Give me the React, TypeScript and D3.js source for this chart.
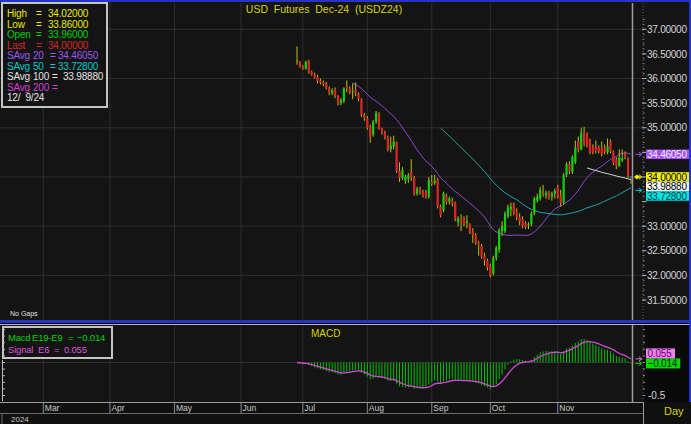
import React from 'react';
import * as d3 from 'd3';

// ---------- DATA ----------
const firstDate = '2024-06-27';
const holidays = ['2024-03-29', '2024-05-27', '2024-06-19', '2024-07-04', '2024-09-02', '2024-11-28'];

const opens = [
  36.36, 36.34, 36.24, 36.20, 36.36, 36.14, 36.08, 36.04, 35.96, 35.92,
  35.90, 35.80, 35.70, 35.78, 35.64, 35.50, 35.54, 35.84, 35.80, 35.72,
  35.78, 35.68, 35.58, 35.26, 35.20, 35.02, 34.86, 35.12, 35.28, 34.98,
  34.90, 34.80, 34.56, 34.62, 34.70, 34.12, 33.98, 33.92, 33.96, 34.10,
  33.98, 33.66, 33.76, 33.70, 33.70, 33.60, 33.90, 33.88, 33.94, 33.40,
  33.32, 33.62, 33.50, 33.52, 33.48, 33.08, 33.14, 33.16, 33.06, 33.04,
  32.90, 32.82, 32.66, 32.60, 32.40, 32.30, 32.20, 32.04, 32.36, 32.52,
  32.90, 32.90, 33.20, 33.34, 33.44, 33.30, 33.18, 33.14, 33.06, 33.02,
  33.04, 33.26, 33.52, 33.56, 33.70, 33.62, 33.68, 33.60, 33.66, 33.80,
  33.62, 33.48, 34.04, 34.26, 34.10, 34.30, 34.72, 34.56, 34.90, 34.86,
  34.74, 34.60, 34.62, 34.60, 34.58, 34.60, 34.50, 34.72, 34.52, 34.36,
  34.22, 34.34, 34.48, 34.36, 33.96,
];
const highs = [
  36.65, 36.36, 36.27, 36.36, 36.38, 36.16, 36.12, 36.08, 36.00, 35.96,
  35.93, 35.84, 35.80, 35.82, 35.66, 35.60, 35.82, 35.96, 35.84, 35.90,
  35.92, 35.72, 35.60, 35.30, 35.24, 35.06, 35.16, 35.34, 35.32, 35.00,
  34.94, 34.84, 34.82, 34.84, 34.72, 34.30, 34.20, 34.04, 34.08, 34.36,
  34.02, 33.80, 33.80, 33.74, 33.74, 34.00, 34.04, 34.04, 33.98, 33.44,
  33.70, 33.66, 33.60, 33.58, 33.50, 33.20, 33.24, 33.20, 33.22, 33.06,
  32.96, 32.86, 32.70, 32.64, 32.46, 32.34, 32.24, 32.40, 32.60, 32.96,
  33.10, 33.30, 33.44, 33.48, 33.48, 33.36, 33.26, 33.20, 33.10, 33.08,
  33.30, 33.60, 33.66, 33.80, 33.84, 33.72, 33.72, 33.70, 33.76, 33.84,
  33.74, 34.08, 34.30, 34.32, 34.44, 34.74, 34.82, 35.00, 35.02, 34.90,
  34.78, 34.66, 34.74, 34.64, 34.72, 34.66, 34.78, 34.76, 34.54, 34.40,
  34.56, 34.56, 34.52, 34.40, 34.02,
];
const lows = [
  36.28, 36.22, 36.18, 36.18, 36.10, 36.06, 36.00, 35.90, 35.88, 35.84,
  35.78, 35.66, 35.66, 35.60, 35.45, 35.46, 35.50, 35.72, 35.68, 35.58,
  35.64, 35.54, 35.22, 35.14, 34.96, 34.70, 34.82, 35.08, 34.96, 34.86,
  34.76, 34.52, 34.50, 34.56, 34.08, 33.90, 33.94, 33.86, 33.88, 33.92,
  33.62, 33.62, 33.64, 33.58, 33.56, 33.56, 33.82, 33.84, 33.36, 33.18,
  33.28, 33.44, 33.44, 33.40, 33.10, 33.00, 32.90, 33.00, 32.96, 32.84,
  32.66, 32.62, 32.40, 32.34, 32.20, 32.10, 31.96, 32.00, 32.30, 32.46,
  32.80, 32.86, 33.16, 33.20, 33.22, 33.12, 33.02, 32.96, 32.94, 32.94,
  33.00, 33.22, 33.48, 33.52, 33.60, 33.56, 33.54, 33.52, 33.56, 33.56,
  33.40, 33.44, 34.00, 34.06, 34.06, 34.26, 34.50, 34.54, 34.62, 34.60,
  34.46, 34.46, 34.48, 34.48, 34.42, 34.46, 34.46, 34.48, 34.24, 34.16,
  34.20, 34.30, 34.36, 33.98, 33.86,
];
const closes = [
  36.37, 36.24, 36.20, 36.34, 36.12, 36.08, 36.02, 35.95, 35.92, 35.88,
  35.80, 35.72, 35.76, 35.64, 35.50, 35.56, 35.80, 35.80, 35.72, 35.74,
  35.70, 35.58, 35.26, 35.20, 35.00, 34.82, 35.12, 35.30, 34.98, 34.90,
  34.80, 34.56, 34.64, 34.72, 34.12, 33.98, 34.14, 34.00, 34.04, 33.98,
  33.66, 33.76, 33.68, 33.62, 33.60, 33.94, 33.86, 33.92, 33.40, 33.22,
  33.66, 33.48, 33.56, 33.46, 33.14, 33.16, 33.10, 33.04, 33.10, 32.88,
  32.82, 32.66, 32.62, 32.38, 32.30, 32.16, 32.00, 32.36, 32.56, 32.92,
  33.00, 33.26, 33.38, 33.40, 33.26, 33.18, 33.10, 33.00, 32.98, 33.04,
  33.26, 33.56, 33.60, 33.74, 33.66, 33.68, 33.58, 33.66, 33.72, 33.60,
  33.48, 34.04, 34.26, 34.12, 34.40, 34.60, 34.56, 34.90, 34.66, 34.64,
  34.50, 34.50, 34.54, 34.52, 34.46, 34.50, 34.62, 34.52, 34.28, 34.22,
  34.40, 34.38, 34.40, 34.02, 34.00,
];

const monthStarts = ['2024-03-01', '2024-04-01', '2024-05-01', '2024-06-01', '2024-07-01', '2024-08-01', '2024-09-01', '2024-10-01', '2024-11-01'];
const monthLabels = ['Mar', 'Apr', 'May', 'Jun', 'Jul', 'Aug', 'Sep', 'Oct', 'Nov'];
const priceTicks = [31.5, 32, 32.5, 33, 33.5, 34, 34.5, 35, 35.5, 36, 36.5, 37];
const priceGrid = [32, 33, 34, 35, 36, 37];
const macdTickLabels = [-0.5];

const smaPeriods = [20, 50, 100];
const smaColors = ['#9048d8', '#18a8a8', '#d8d8d8'];
const smaValues = [34.4605, 33.728, 33.9888];
const macdFast = 9;
const macdSlow = 19;
const signalPeriod = 6;
const macdValue = -0.014;
const signalValue = 0.055;

const titleText = 'USD  Futures  Dec-24  (USDZ24)';
const legendDate = '12/  9/24';

// ---------- LAYOUT ----------
const W = 691;
const H = 424;
const FONT = '"Liberation Sans", Arial, sans-serif';
const PLOT_R = 643;
const BG = '#141414';
const GRID = '#2e2e2e';
const UP = '#10d010';
const DOWN = '#e02424';
const WICK = '#c0c000';

const parse = d3.timeParse('%Y-%m-%d');
const fmtKey = d3.timeFormat('%Y-%m-%d');

function tradingDays(start: Date, count: number): Date[] {
  const out: Date[] = [];
  let d = start;
  while (out.length < count) {
    const wd = d.getDay();
    if (wd !== 0 && wd !== 6 && !holidays.includes(fmtKey(d))) out.push(d);
    d = d3.timeDay.offset(d, 1);
  }
  return out;
}

function sma(vals: number[], p: number): (number | null)[] {
  return vals.map((_, i) => (i < p - 1 ? null : (d3.mean(vals.slice(i - p + 1, i + 1)) as number)));
}
function ema(vals: number[], p: number): number[] {
  const a = 2 / (p + 1);
  const out: number[] = [];
  vals.forEach((v, i) => out.push(i === 0 ? v : a * v + (1 - a) * out[i - 1]));
  return out;
}

type Box = { value: number; y: number; bg: string; fg: string; text: string };
function placeBoxes(items: Omit<Box, 'y'>[], scale: (v: number) => number, h: number): Box[] {
  const placed: Box[] = [];
  items.forEach((it) => {
    let y = scale(it.value);
    for (let k = 0; k < 10; k++) {
      const hit = placed.find((p) => Math.abs(p.y - y) < h - 0.01);
      if (!hit) break;
      y = it.value < hit.value ? hit.y + h : hit.y - h;
    }
    placed.push({ ...it, y });
  });
  return placed;
}

export default function App() {
  const n = closes.length;
  const dates = tradingDays(parse(firstDate) as Date, n);
  const xI = d3.scaleLinear().domain([0, n - 1]).range([297, 631]);
  const preDays = 150;
  const xCal = d3
    .scaleTime()
    .domain([d3.timeDay.offset(dates[0], -preDays), dates[0]])
    .range([297 - preDays * 2.15, 297]);
  const monthX = (m: Date) => {
    if (m < dates[0]) return xCal(m);
    const idx = dates.findIndex((d) => d >= m);
    return xI(idx);
  };
  const yP = d3.scaleLinear().domain([31.5, 37]).range([300, 29.3]);
  const yM = d3.scaleLinear().domain([-0.5, 0]).range([395.5, 362.5]);

  const smas = smaPeriods.map((p) => sma(closes, p));
  const eF = ema(closes, macdFast);
  const eS = ema(closes, macdSlow);
  const macd = eF.map((v, i) => v - eS[i]);
  const signal = ema(macd, signalPeriod);

  const lineP = d3
    .line<number | null>()
    .defined((d) => d !== null)
    .x((_, i) => xI(i))
    .y((d) => yP(d as number));
  const lineM = d3
    .line<number>()
    .x((_, i) => xI(i))
    .y((d) => yM(d))
    .curve(d3.curveMonotoneX);

  const lastIdx = n - 1;
  const lastClose = closes[lastIdx];
  const f5 = d3.format('.5f');
  const f3 = d3.format('.3f');
  const curX = xI(lastIdx) + 1.5;

  const priceBoxes = placeBoxes(
    [
      { value: lastClose, bg: '#f0f000', fg: '#000000', text: f5(lastClose) },
      { value: smaValues[0], bg: '#a050f0', fg: '#f4eaff', text: f5(smaValues[0]) },
      { value: smaValues[2], bg: '#f4f4f4', fg: '#000000', text: f5(smaValues[2]) },
      { value: smaValues[1], bg: '#00e4e4', fg: '#003c3c', text: f5(smaValues[1]) },
    ],
    yP,
    9.5,
  );
  const macdBoxes = placeBoxes(
    [
      { value: macdValue, bg: '#00d800', fg: '#002800', text: f3(macdValue) },
      { value: signalValue, bg: '#ec84ec', fg: '#700070', text: f3(signalValue) },
    ],
    yM,
    10,
  );
  // tick labels hidden behind the value boxes
  const visibleTicks = priceTicks.filter((v) => !priceBoxes.some((b) => Math.abs(b.y - yP(v)) < 9.5));

  const minorTicks = d3.range(31.5, 37.25, 0.1);
  const macdMinor = d3.range(-0.5, 0.51, 0.1);
  const months = monthStarts.map((m) => parse(m) as Date);

  const legendRows: { parts: [string, number][]; color: string }[] = [
    { parts: [['High', 7], ['=', 36], [f5(highs[lastIdx]), 48]], color: '#e8e800' },
    { parts: [['Low', 7], ['=', 36], [f5(lows[lastIdx]), 48]], color: '#e8e800' },
    { parts: [['Open', 7], ['=', 36], [f5(opens[lastIdx]), 48]], color: '#00d000' },
    { parts: [['Last', 7], ['=', 36], [f5(lastClose), 48]], color: '#d42828' },
    { parts: [['SAvg', 7], [String(smaPeriods[0]), 33], ['=', 50], [f5(smaValues[0]), 58]], color: '#9a58ec' },
    { parts: [['SAvg', 7], [String(smaPeriods[1]), 33], ['=', 50], [f5(smaValues[1]), 58]], color: '#00c8c8' },
    { parts: [['SAvg', 7], [String(smaPeriods[2]), 33], ['=', 52], [f5(smaValues[2]), 63]], color: '#e4e4e4' },
    { parts: [['SAvg', 7], ['200', 33], ['=', 52]], color: '#d040d0' },
    { parts: [[legendDate, 7]], color: '#e4e4e4' },
  ];

  const macdRows: { parts: [string, number][]; color: string }[] = [
    { parts: [['Macd', 8], [`E${macdSlow}-E${macdFast}`, 32], ['=', 68], [f3(macdValue), 77]], color: '#00d400' },
    { parts: [['Signal', 8], [`E${signalPeriod}`, 38], ['=', 54], [f3(signalValue), 64]], color: '#d454d4' },
  ];

  const arrow = (y: number, color: string, key: string) => (
    <path
      key={key}
      d={`M635.5,${y} L641.5,${y} M639,${y - 2.2} L641.8,${y} L639,${y + 2.2}`}
      stroke={color}
      strokeWidth={1}
      fill="none"
    />
  );

  return (
    <svg width={W} height={H} style={{ display: 'block', position: 'absolute', left: 0, top: 0 }} fontFamily={FONT}>
      <rect x={0} y={0} width={W} height={H} fill="#000000" />
      {/* main panel */}
      <rect x={0} y={2} width={689} height={318} fill={BG} />
      {/* macd panel */}
      <rect x={0} y={325} width={PLOT_R} height={77} fill={BG} />
      <rect x={PLOT_R} y={325} width={46} height={77} fill="#0a0a0a" />

      {/* grids */}
      {priceGrid.map((v) => (
        <line key={'g' + v} x1={0} x2={PLOT_R} y1={yP(v)} y2={yP(v)} stroke={GRID} strokeWidth={1} />
      ))}
      {months.map((m, i) => (
        <g key={'vg' + i}>
          <line x1={monthX(m)} x2={monthX(m)} y1={3} y2={320} stroke={GRID} strokeWidth={1} />
          <line x1={monthX(m)} x2={monthX(m)} y1={325} y2={402} stroke={GRID} strokeWidth={1} />
        </g>
      ))}
      <line x1={0} x2={PLOT_R} y1={yM(0)} y2={yM(0)} stroke={GRID} strokeWidth={1} />

      {/* title */}
      <text x={324} y={13} textAnchor="middle" fill="#d4d400" fontSize={10.5} style={{ whiteSpace: 'pre' }}>
        {titleText}
      </text>

      {/* moving averages */}
      {smas.map((s, k) => (
        <path key={'sma' + k} d={lineP(s) || ''} fill="none" stroke={smaColors[k]} strokeWidth={1} />
      ))}

      {/* candles */}
      {closes.map((c, i) => {
        const o = opens[i];
        const x = xI(i);
        const top = yP(Math.max(o, c));
        const bot = yP(Math.min(o, c));
        const col = c > o ? UP : c < o ? DOWN : WICK;
        return (
          <g key={'c' + i}>
            <line x1={x} x2={x} y1={yP(highs[i])} y2={yP(lows[i])} stroke={WICK} strokeWidth={1} />
            <rect x={x - 1.1} y={top} width={2.2} height={Math.max(1, bot - top)} fill={i === lastIdx ? '#2040b8' : col} />
          </g>
        );
      })}

      {/* current bar line */}
      <line x1={curX} x2={curX} y1={3} y2={320} stroke="#9c9c9c" strokeWidth={1.5} />
      <line x1={curX} x2={curX} y1={325} y2={402} stroke="#9c9c9c" strokeWidth={1.5} />

      {/* right price axis */}
      <line x1={PLOT_R} x2={PLOT_R} y1={3} y2={320} stroke="#5a5a5a" strokeWidth={1} strokeDasharray="1,2" />
      {minorTicks.map((v, i) => (
        <line key={'mt' + i} x1={PLOT_R} x2={PLOT_R + 1.5} y1={yP(v)} y2={yP(v)} stroke="#8a8a8a" strokeWidth={1} />
      ))}
      {priceTicks.map((v) => (
        <line key={'pt' + v} x1={PLOT_R - 1} x2={PLOT_R + 3.5} y1={yP(v)} y2={yP(v)} stroke="#b0b0b0" strokeWidth={1} />
      ))}
      {visibleTicks.map((v) => (
        <text key={'ptl' + v} x={647} y={yP(v) + 3.6} fill="#d4d4d4" fontSize={10} letterSpacing={-0.25}>
          {f5(v)}
        </text>
      ))}
      {arrow(yP(smaValues[0]), '#a050f0', 'a1')}
      {arrow(yP(smaValues[1]), '#00d0d0', 'a2')}
      <path d={`M634,${yP(lastClose)} L637,${yP(lastClose) - 2.5} L640,${yP(lastClose)} L637,${yP(lastClose) + 2.5} Z`} fill="#f0f000" />
      {arrow(yP(lastClose), '#f0f000', 'a3')}
      {priceBoxes.map((b, i) => (
        <g key={'pb' + i}>
          <rect x={646} y={b.y - 4.75} width={43} height={9.5} fill={b.bg} />
          <text x={647} y={b.y + 3.6} fill={b.fg} fontSize={10} letterSpacing={-0.25}>
            {b.text}
          </text>
        </g>
      ))}

      {/* legend */}
      <rect x={2} y={3} width={105} height={104} fill={BG} stroke="#c4c4c4" strokeWidth={2} />
      {legendRows.map((r, i) => (
        <text key={'lg' + i} y={17 + i * 10.5} fill={r.color} fontSize={10} letterSpacing={-0.2} style={{ whiteSpace: 'pre' }}>
          {r.parts.map(([t, x], j) => (
            <tspan key={j} x={x}>
              {t}
            </tspan>
          ))}
        </text>
      ))}
      <text x={10} y={316} fill="#e0e0e0" fontSize={7}>
        No Gaps
      </text>

      {/* separators and borders */}
      <rect x={0} y={0} width={W} height={2} fill="#2434c8" />
      <rect x={0} y={320} width={W} height={3} fill="#2434c8" />
      <line x1={0} x2={W} y1={324.5} y2={324.5} stroke="#b8b8b8" strokeWidth={1} />
      <rect x={689} y={0} width={2} height={402} fill="#2434c8" />

      {/* MACD */}
      {macd.map((v, i) => (
        <line key={'mb' + i} x1={xI(i)} x2={xI(i)} y1={yM(0)} y2={yM(v)} stroke="#00c400" strokeWidth={1} />
      ))}
      <path d={lineM(signal) || ''} fill="none" stroke="#d448d4" strokeWidth={1.3} />
      <text x={311} y={337} fill="#d4d400" fontSize={10}>
        MACD
      </text>
      <rect x={3} y={327} width={109} height={31} fill={BG} stroke="#c4c4c4" strokeWidth={2} />
      {macdRows.map((r, i) => (
        <text key={'mr' + i} y={341 + i * 12} fill={r.color} fontSize={9.5} letterSpacing={-0.2}>
          {r.parts.map(([t, x], j) => (
            <tspan key={j} x={x}>
              {t}
            </tspan>
          ))}
        </text>
      ))}
      {/* macd axes */}
      <line x1={PLOT_R} x2={PLOT_R} y1={326} y2={401} stroke="#5a5a5a" strokeWidth={1} strokeDasharray="1,2" />
      {macdMinor.map((v, i) => (
        <g key={'mm' + i}>
          <line x1={PLOT_R} x2={PLOT_R + 2} y1={yM(v)} y2={yM(v)} stroke="#9a9a9a" strokeWidth={1} />
          <line x1={2} x2={5} y1={yM(v)} y2={yM(v)} stroke="#bcbcbc" strokeWidth={1} />
        </g>
      ))}
      <line x1={2.5} x2={2.5} y1={360} y2={401} stroke="#bcbcbc" strokeWidth={1} />
      {macdTickLabels.map((v) => (
        <text key={'ml' + v} x={648} y={yM(v) + 3.6} fill="#d4d4d4" fontSize={10}>
          {String(v)}
        </text>
      ))}
      {arrow(yM(macdValue), '#00d000', 'ma1')}
      {arrow(yM(signalValue), '#e070e0', 'ma2')}
      {macdBoxes.map((b, i) => (
        <g key={'mbx' + i}>
          <rect x={646} y={b.y - 5} width={b.text.length * 5.2 + 3} height={10} fill={b.bg} />
          <text x={647.5} y={b.y + 3.6} fill={b.fg} fontSize={10} letterSpacing={-0.2}>
            {b.text}
          </text>
        </g>
      ))}

      {/* bottom time axis */}
      <rect x={0} y={402} width={W} height={22} fill="#101010" />
      <line x1={0} x2={PLOT_R} y1={402.5} y2={402.5} stroke="#9a9a9a" strokeWidth={1} />
      <line x1={0} x2={PLOT_R} y1={413.5} y2={413.5} stroke="#6a6a6a" strokeWidth={1} />
      <line x1={PLOT_R + 0.5} x2={PLOT_R + 0.5} y1={402} y2={424} stroke="#9a9a9a" strokeWidth={1} />
      <line x1={2} x2={2} y1={413} y2={424} stroke="#6a6a6a" strokeWidth={1} />
      {months.map((m, i) => (
        <g key={'mx' + i}>
          <line x1={monthX(m)} x2={monthX(m)} y1={403} y2={413} stroke="#8a8a8a" strokeWidth={1} />
          <text x={monthX(m) + 1.5} y={411} fill="#c8c8c8" fontSize={8.5}>
            {monthLabels[i]}
          </text>
        </g>
      ))}
      <text x={11} y={421.5} fill="#c8c8c8" fontSize={8}>
        {d3.timeFormat('%Y')(dates[0])}
      </text>
      <text x={664} y={415} fill="#d4d400" fontSize={11}>
        Day
      </text>
    </svg>
  );
}
